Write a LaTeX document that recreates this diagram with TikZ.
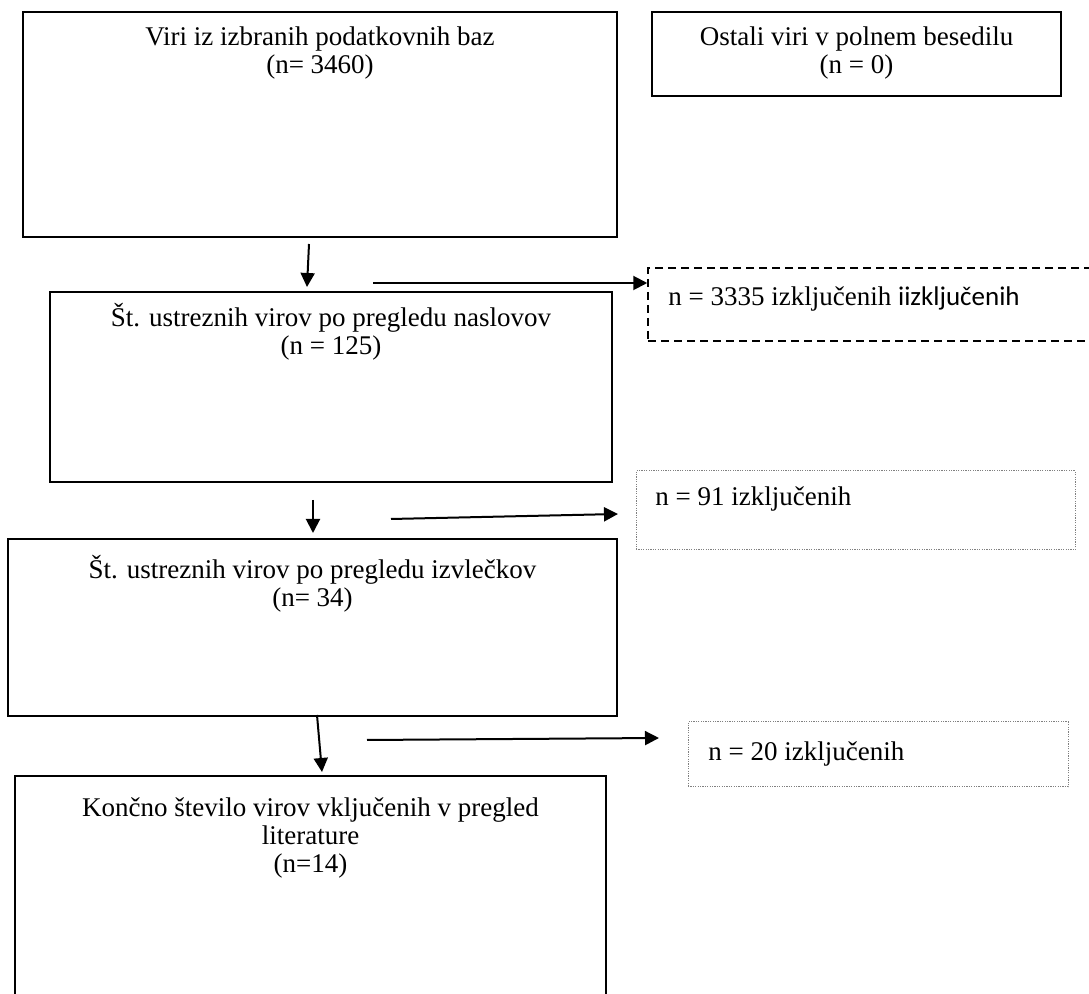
\documentclass[tikz,border=0pt]{standalone}
\usepackage{fontspec}
\setmainfont{Liberation Serif}
\newfontfamily\sansfont{Carlito}
\usetikzlibrary{arrows.meta,positioning,fit}

\begin{document}
\begin{tikzpicture}[x=0.5pt,y=-0.5pt,
    box/.style={draw,line width=1pt,inner sep=0pt},
    dashbox/.style={draw,line width=0.75pt,dash pattern=on 4pt off 2.5pt,inner sep=0pt},
    dotbox/.style={draw,gray,line width=0.5pt,dash pattern=on 0.6pt off 0.6pt,inner sep=0pt},
    boxtext/.style={align=center,inner sep=0pt,font=\fontsize{13.5}{14}\selectfont},
    sidetext/.style={anchor=base west,inner sep=0pt,font=\fontsize{13.5}{14}\selectfont},
    flow/.style={-{Triangle[length=7pt,width=7pt]},line width=1pt}]
    \clip (0,0) rectangle (1089,994);

    % Boxes
    \node[box,fit={(23,12) (617,237)}] (baze) {};
    \node[box,fit={(652,12) (1061,96)}] (ostali) {};
    \node[box,fit={(50,292) (612,482)}] (naslovi) {};
    \node[box,fit={(8,539) (617,716)}] (izvlecki) {};
    \node[box,fit={(15,776) (606,1020)}] (koncno) {};

    % Excluded
    \node[dashbox,fit={(648,268) (1100,341)}] (izkl1) {};
    \node[dotbox,fit={(636,471) (1075,550)}] (izkl2) {};
    \node[dotbox,fit={(688,722) (1068,787)}] (izkl3) {};

    % Texts
    \node[boxtext,below=7.5pt of baze.north] (bazetext) {Viri iz izbranih podatkovnih baz\\(n= 3460)};
    \node[boxtext,below=7.5pt of ostali.north] (ostalitext) {Ostali viri v polnem besedilu\\(n = 0)};
    \node[boxtext,below=6pt of naslovi.north] (naslovitext) {Št. ustreznih virov po pregledu naslovov\\(n = 125)};
    \node[boxtext,below=8.5pt of izvlecki.north] (izvleckitext) {Št. ustreznih virov po pregledu izvlečkov\\(n= 34)};
    \node[boxtext,below=11pt of koncno.north] (koncnotext) {Končno število virov vključenih v pregled\\literature\\(n=14)};

    \node[sidetext] (izkl1text) at (668,306) {n = 3335 izključenih {\sansfont iizključenih}};
    \node[sidetext] (izkl2text) at (655,506) {n = 91 izključenih};
    \node[sidetext] (izkl3text) at (708,761) {n = 20 izključenih};

    % Arrows
    \coordinate (d1s) at (309,244);
    \coordinate (d1e) at (307,287);
    \coordinate (h1s) at (373,283);
    \coordinate (d2s) at (313,500);
    \coordinate (d2e) at (313,533);
    \coordinate (h2s) at (391,519);
    \coordinate (h2e) at (618,514);
    \coordinate (d3s) at (317,715);
    \coordinate (d3e) at (322,772);
    \coordinate (h3s) at (367,740);
    \coordinate (h3e) at (659,738);

    \draw[flow] (d1s) -- (d1e);
    \draw[flow] (h1s) -- (h1s -| izkl1.west);
    \draw[flow] (d2s) -- (d2e);
    \draw[flow] (h2s) -- (h2e);
    \draw[flow] (d3s) -- (d3e);
    \draw[flow] (h3s) -- (h3e);
\end{tikzpicture}
\end{document}
